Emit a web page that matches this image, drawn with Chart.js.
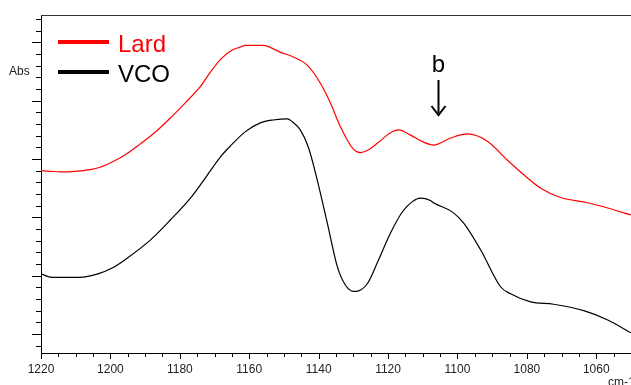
<!DOCTYPE html>
<html lang="en">
<head>
    <meta charset="UTF-8">
    <title>Lard vs VCO FTIR</title>
    <style>
        html, body { margin: 0; padding: 0; background: #fff; }
        #wrap { width: 631px; height: 385px; position: relative; }
    </style>
</head>
<body>
    <div id="wrap">
        <canvas id="ftir-chart" width="631" height="385"></canvas>
    </div>

    <script src="https://cdn.jsdelivr.net/npm/chart.js"></script>
    <script>
        // wavenumbers (cm-1) and absorbance
        const lardWavenumbers = [1220, 1217.4, 1214.5, 1210.2, 1205.9, 1203.0, 1199.5, 1195.8, 1191.4, 1187.1,
            1182.8, 1178.5, 1174.1, 1171.2, 1168.4, 1165.5, 1162.6, 1161.1, 1156.0, 1151.0,
            1147.3, 1143.3, 1139.5, 1136.6, 1133.7, 1130.0, 1128.0, 1125.9, 1123.1, 1119.3,
            1117.0, 1113.5, 1109.8, 1106.9, 1102.0, 1097.1, 1091.3, 1085.6, 1080.9, 1076.0,
            1070.3, 1062.5, 1056.7, 1050];
        const lardAbs = [0.280, 0.279, 0.278, 0.279, 0.282, 0.286, 0.295, 0.307, 0.326, 0.346,
            0.370, 0.396, 0.424, 0.449, 0.470, 0.485, 0.492, 0.495, 0.495, 0.483,
            0.475, 0.461, 0.430, 0.396, 0.355, 0.317, 0.311, 0.315, 0.327, 0.345,
            0.350, 0.341, 0.329, 0.324, 0.336, 0.343, 0.330, 0.298, 0.273, 0.250,
            0.234, 0.225, 0.216, 0.204];

        const vcoWavenumbers = [1220, 1216.8, 1211.1, 1207.3, 1203.6, 1199.5, 1195.2, 1188.5, 1182.8, 1176.4,
            1173.3, 1168.4, 1165.5, 1161.1, 1156.8, 1153.1, 1149.0, 1147.6, 1145.3, 1143.0,
            1140.4, 1137.5, 1134.6, 1132.3, 1130.0, 1128.5, 1125.9, 1123.1, 1119.3, 1115.8,
            1113.0, 1110.7, 1107.8, 1106.9, 1101.4, 1098.2, 1093.3, 1087.6, 1084.7, 1078.9,
            1072.3, 1063.6, 1056.7, 1050];
        const vcoAbs = [0.103, 0.097, 0.097, 0.098, 0.103, 0.113, 0.130, 0.161, 0.195, 0.237,
            0.262, 0.303, 0.322, 0.347, 0.362, 0.367, 0.369, 0.364, 0.350, 0.321,
            0.264, 0.190, 0.115, 0.084, 0.073, 0.074, 0.087, 0.122, 0.173, 0.210,
            0.227, 0.233, 0.229, 0.225, 0.209, 0.190, 0.144, 0.081, 0.069, 0.055,
            0.051, 0.040, 0.024, 0.002];

        const seriesNames = ["Lard", "VCO"];
        const seriesColors = ["#ff0000", "#000000"];
        const xTickLabels = [1220, 1200, 1180, 1160, 1140, 1120, 1100, 1080, 1060];
        const bandLabel = "b";
        const bandWavenumber = 1105.5;

        const toPoints = (xs, ys) => xs.map((x, i) => ({ x: x, y: ys[i] }));

        // ticks, border, legend, "Abs", "cm-1", band arrow
        const decorations = {
            id: "decorations",
            afterDraw(chart) {
                const ctx = chart.ctx;
                const xs = chart.scales.x;
                const ys = chart.scales.y;
                const area = chart.chartArea;
                ctx.save();
                ctx.strokeStyle = "#333";
                ctx.lineWidth = 1;

                // top frame line
                ctx.beginPath();
                ctx.moveTo(area.left, area.top + 0.5);
                ctx.lineTo(area.right, area.top + 0.5);
                ctx.stroke();

                // x ticks every 5 cm-1
                ctx.strokeStyle = "#000";
                for (let v = 1050; v <= 1220; v += 5) {
                    const px = Math.round(xs.getPixelForValue(v)) + 0.5;
                    const len = v % 20 === 0 ? 6 : 4;
                    ctx.beginPath();
                    ctx.moveTo(px, area.bottom);
                    ctx.lineTo(px, area.bottom + len);
                    ctx.stroke();
                }

                // y ticks every 0.02
                for (let k = -1; k <= 27; k++) {
                    const py = Math.round(ys.getPixelForValue(k * 0.02)) + 0.5;
                    const len = k % 5 === 0 ? 9 : 5;
                    ctx.beginPath();
                    ctx.moveTo(area.left - len, py);
                    ctx.lineTo(area.left, py);
                    ctx.stroke();
                }

                // legend
                const legendY = [42, 72];
                seriesNames.forEach((name, i) => {
                    ctx.strokeStyle = seriesColors[i];
                    ctx.lineWidth = 4;
                    ctx.beginPath();
                    ctx.moveTo(58, legendY[i]);
                    ctx.lineTo(109, legendY[i]);
                    ctx.stroke();
                    ctx.fillStyle = seriesColors[i];
                    ctx.font = "24px 'Liberation Sans', Arial, sans-serif";
                    ctx.textAlign = "left";
                    ctx.textBaseline = "alphabetic";
                    ctx.fillText(name, 118, legendY[i] + 10);
                });

                // y axis title
                ctx.fillStyle = "#222";
                ctx.font = "12px 'Liberation Sans Narrow', 'Liberation Sans', Arial, sans-serif";
                ctx.textAlign = "left";
                ctx.textBaseline = "middle";
                ctx.fillText("Abs", 9, 72);

                // unit
                ctx.textBaseline = "top";
                ctx.fillText("cm-1", 608, 377);

                // band marker
                const bx = Math.round(xs.getPixelForValue(bandWavenumber)) + 0.5;
                ctx.fillStyle = "#000";
                ctx.font = "24px 'Liberation Sans', Arial, sans-serif";
                ctx.textAlign = "center";
                ctx.textBaseline = "alphabetic";
                ctx.fillText(bandLabel, bx, 72);
                ctx.strokeStyle = "#000";
                ctx.lineWidth = 2;
                ctx.beginPath();
                ctx.moveTo(bx, 80);
                ctx.lineTo(bx, 113);
                ctx.stroke();
                ctx.beginPath();
                ctx.moveTo(bx - 7, 106);
                ctx.lineTo(bx, 115);
                ctx.lineTo(bx + 7, 106);
                ctx.stroke();

                ctx.restore();
            }
        };

        const ctx = document.getElementById("ftir-chart").getContext("2d");
        new Chart(ctx, {
            type: "line",
            data: {
                datasets: [
                    {
                        label: seriesNames[0],
                        data: toPoints(lardWavenumbers, lardAbs),
                        borderColor: seriesColors[0],
                        borderWidth: 1.2,
                        pointRadius: 0,
                        cubicInterpolationMode: "monotone",
                        fill: false
                    },
                    {
                        label: seriesNames[1],
                        data: toPoints(vcoWavenumbers, vcoAbs),
                        borderColor: seriesColors[1],
                        borderWidth: 1.2,
                        pointRadius: 0,
                        cubicInterpolationMode: "monotone",
                        fill: false
                    }
                ]
            },
            options: {
                responsive: false,
                animation: false,
                layout: { padding: { top: 15, right: 0, left: 0, bottom: 0 } },
                plugins: {
                    legend: { display: false },
                    tooltip: { enabled: false }
                },
                scales: {
                    x: {
                        type: "linear",
                        reverse: true,
                        min: 1050,
                        max: 1220,
                        afterBuildTicks: (scale) => {
                            scale.ticks = xTickLabels.map(v => ({ value: v }));
                        },
                        afterFit: (scale) => { scale.height = 32; },
                        grid: { display: false, drawTicks: false },
                        border: { display: true, color: "#000", width: 1 },
                        ticks: {
                            color: "#222",
                            padding: 9,
                            maxRotation: 0,
                            autoSkip: false,
                            font: { family: "'Liberation Sans Narrow', 'Liberation Sans', Arial, sans-serif", size: 12 },
                            callback: (v) => String(v)
                        }
                    },
                    y: {
                        min: -0.0326,
                        max: 0.547,
                        afterFit: (scale) => { scale.width = 41; },
                        grid: { display: false, drawTicks: false },
                        border: { display: true, color: "#000", width: 1 },
                        ticks: { display: false }
                    }
                }
            },
            plugins: [decorations]
        });
    </script>
</body>
</html>
